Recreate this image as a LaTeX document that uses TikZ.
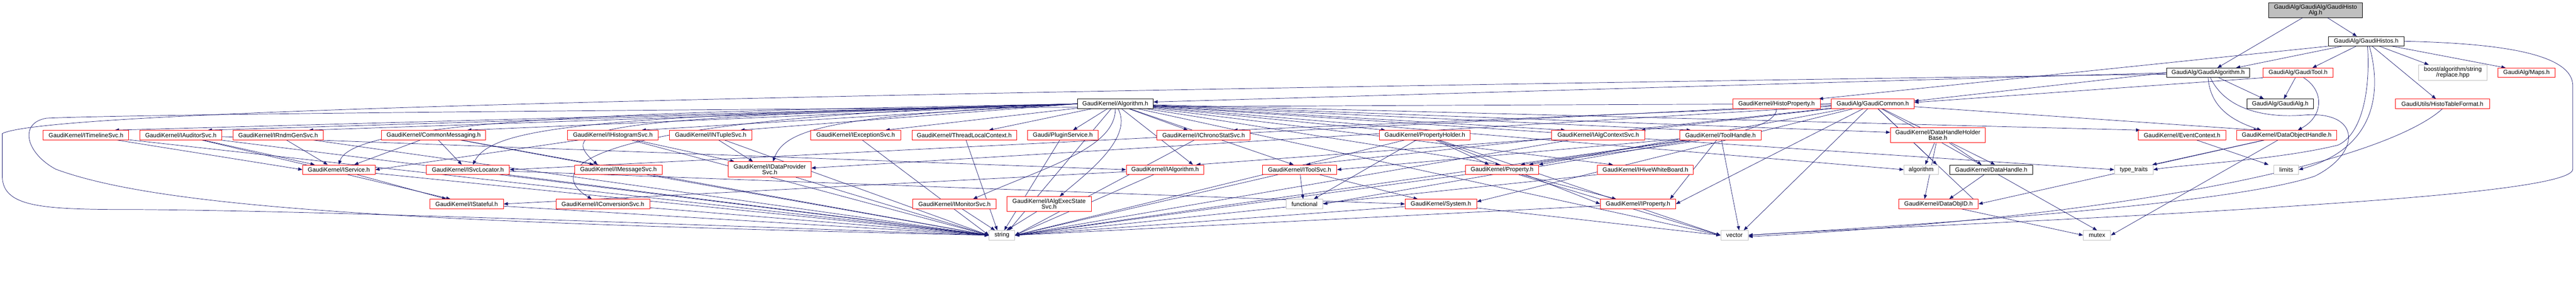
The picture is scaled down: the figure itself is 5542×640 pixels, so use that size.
\documentclass[tikz,border=0pt]{standalone}
\usepackage{fontspec}
\setmainfont{Liberation Sans}
\usetikzlibrary{arrows.meta}
\pgfdeclarelayer{bg}
\pgfsetlayers{bg,main}
\definecolor{edgeblue}{RGB}{25,25,112}
\definecolor{nodered}{RGB}{255,0,0}
\definecolor{sysgray}{RGB}{191,191,191}
\definecolor{topfill}{RGB}{191,191,191}
\tikzset{
  nd/.style={draw, rectangle, inner sep=0pt, fill=white, line width=1pt, align=center,
    font=\fontsize{13}{12.5}\selectfont, minimum height=20.5pt},
  rn/.style={nd, draw=nodered},
  bn/.style={nd, draw=black},
  gn/.style={nd, draw=sysgray},
  e/.style={draw=edgeblue, line width=0.8pt, -{Triangle[length=9pt,width=7pt]}}
}
\newcommand\E[2]{\draw[e] (#1) -- (#2);}
\begin{document}
\begin{tikzpicture}[x=1pt,y=-1pt]
\useasboundingbox (0,0) rectangle (5542,640);
% row 0-3
\node[bn, fill=topfill, minimum width=201pt, minimum height=32pt] (top) at (4981.5,22) {GaudiAlg/GaudiAlg/GaudiHisto\\Alg.h};
\node[bn, minimum width=163pt] (his) at (5090.5,89) {GaudiAlg/GaudiHistos.h};
\node[bn, minimum width=179pt] (galg) at (4750.5,157) {GaudiAlg/GaudiAlgorithm.h};
\node[rn, minimum width=150pt] (gtool) at (4944,157) {GaudiAlg/GaudiTool.h};
\node[gn, minimum width=148pt, minimum height=33pt] (boost) at (5277,156.5) {boost/algorithm/string\\/replace.hpp};
\node[rn, minimum width=123pt] (maps) at (5435.5,157) {GaudiAlg/Maps.h};
\node[bn, minimum width=163pt] (algo) at (2399.5,224) {GaudiKernel/Algorithm.h};
\node[rn, minimum width=188pt] (hprop) at (3822,224) {GaudiKernel/HistoProperty.h};
\node[rn, minimum width=178pt] (gcom) at (4029,224) {GaudiAlg/GaudiCommon.h};
\node[bn, minimum width=143pt] (galgh) at (4905.5,224) {GaudiAlg/GaudiAlg.h};
\node[rn, minimum width=203pt] (htf) at (5254.5,224) {GaudiUtils/HistoTableFormat.h};
% row 4
\node[rn, minimum width=184pt] (itl) at (185,291.5) {GaudiKernel/ITimelineSvc.h};
\node[rn, minimum width=176pt] (iaud) at (389,291.5) {GaudiKernel/IAuditorSvc.h};
\node[rn, minimum width=195pt] (irnd) at (598.5,291.5) {GaudiKernel/IRndmGenSvc.h};
\node[rn, minimum width=224pt] (cmsg) at (933,291.5) {GaudiKernel/CommonMessaging.h};
\node[rn, minimum width=195pt] (ihist) at (1318.5,291.5) {GaudiKernel/IHistogramSvc.h};
\node[rn, minimum width=178pt] (intup) at (1529,291.5) {GaudiKernel/INTupleSvc.h};
\node[rn, minimum width=194pt] (iexc) at (1841,291.5) {GaudiKernel/IExceptionSvc.h};
\node[rn, minimum width=225pt] (tlc) at (2074.5,291.5) {GaudiKernel/ThreadLocalContext.h};
\node[rn, minimum width=151pt] (plug) at (2286.5,291.5) {Gaudi/PluginService.h};
\node[rn, minimum width=201pt] (ichr) at (2589.5,291.5) {GaudiKernel/IChronoStatSvc.h};
\node[rn, minimum width=195pt] (ph) at (3065.5,291.5) {GaudiKernel/PropertyHolder.h};
\node[rn, minimum width=201pt] (iacs) at (3438.5,291.5) {GaudiKernel/IAlgContextSvc.h};
\node[rn, minimum width=175pt] (th) at (3701.5,291.5) {GaudiKernel/ToolHandle.h};
\node[rn, minimum width=204pt, minimum height=33pt] (dhhb) at (4169,291.5) {GaudiKernel/DataHandleHolder\\Base.h};
\node[rn, minimum width=189pt] (ec) at (4694.5,291.5) {GaudiKernel/EventContext.h};
\node[rn, minimum width=215pt] (doh) at (4919.5,291.5) {GaudiKernel/DataObjectHandle.h};
% row 5
\node[rn, minimum width=156pt] (isvc) at (729,366) {GaudiKernel/IService.h};
\node[rn, minimum width=179pt] (isl) at (1006.5,366) {GaudiKernel/ISvcLocator.h};
\node[rn, minimum width=189pt] (imsg) at (1330.5,366) {GaudiKernel/IMessageSvc.h};
\node[rn, minimum width=178pt, minimum height=33pt] (idp) at (1656,365.5) {GaudiKernel/IDataProvider\\Svc.h};
\node[rn, minimum width=167pt] (ialg) at (2506.5,366) {GaudiKernel/IAlgorithm.h};
\node[rn, minimum width=160pt] (itool) at (2796,366) {GaudiKernel/IToolSvc.h};
\node[rn, minimum width=157pt] (prop) at (3231.5,366) {GaudiKernel/Property.h};
\node[rn, minimum width=206pt] (ihwb) at (3540,366) {GaudiKernel/IHiveWhiteBoard.h};
\node[gn, minimum width=74pt] (algm) at (4133,366) {algorithm};
\node[bn, minimum width=178pt] (dh) at (4284,366) {GaudiKernel/DataHandle.h};
\node[gn, minimum width=83pt] (tt) at (4590.5,366) {type\_traits};
\node[gn, minimum width=53pt] (lim) at (4918.5,366) {limits};
% row 6
\node[rn, minimum width=158pt] (istf) at (1004,440) {GaudiKernel/IStateful.h};
\node[rn, minimum width=202pt] (iconv) at (1297,440) {GaudiKernel/IConversionSvc.h};
\node[rn, minimum width=179pt] (imon) at (2053.5,440) {GaudiKernel/IMonitorSvc.h};
\node[rn, minimum width=182pt, minimum height=32pt] (iaes) at (2257,440) {GaudiKernel/IAlgExecState\\Svc.h};
\node[gn, minimum width=79pt] (func) at (2806.5,440) {functional};
\node[rn, minimum width=154pt] (sys) at (3100,440) {GaudiKernel/System.h};
\node[rn, minimum width=162pt] (iprop) at (3524,440) {GaudiKernel/IProperty.h};
\node[rn, minimum width=171pt] (doid) at (4170.5,440) {GaudiKernel/DataObjID.h};
% row 7
\node[gn, minimum width=55pt] (str) at (2155.5,507.5) {string};
\node[gn, minimum width=59pt] (vec) at (3731.5,507.5) {vector};
\node[gn, minimum width=59pt] (mtx) at (4511.5,507.5) {mutex};

\begin{pgfonlayer}{bg}
% top
\E{top}{[xshift=20pt]galg.north}
\E{top}{[xshift=-20pt]his.north}
% GaudiHistos
\E{his}{[xshift=60pt]galg.north}
\E{his}{[xshift=31pt]gtool.north}
\E{his}{[xshift=-52pt]boost.north}
\E{his}{[xshift=-45pt]maps.north}
\E{his}{[xshift=-14pt]htf.north}
\E{his.south west}{[xshift=91pt]hprop.north}
\draw[e] ([xshift=3pt]his.south) .. controls (5100,200) and (5080,290) .. (5030,313) .. controls (4900,345) and (4700,355) .. (tt.east);
\draw[e] ([xshift=7pt]his.south) .. controls (5125,200) and (5110,320) .. (lim.east);
\draw[e] (his.east) .. controls (5350,93) and (5535,110) .. (5535,185) -- (5535,365) .. controls (5535,395) and (5300,420) .. (5000,440) .. controls (4500,475) and (3900,497) .. (vec.east);
% GaudiAlgorithm
\E{galg}{[xshift=-35pt]galgh.north}
\draw[e] (galg.south) .. controls (4755,230) and (4800,260) .. ([xshift=-55pt]doh.north);
\E{galg.west}{[yshift=6pt]gcom.east}
\E{galg.west}{[yshift=4pt]algo.east}
\draw[e] ([yshift=-3pt]galg.west) .. controls (1500,205) and (100,240) .. (5,288) -- (5,380) .. controls (5,450) and (100,452) .. (300,452) .. controls (700,455) and (1500,485) .. (str.west);
\draw[e] ([xshift=5pt]galg.south) .. controls (4790,240) and (4880,255) .. (4960,248) .. controls (5080,240) and (5080,330) .. (4980,380) .. controls (4800,440) and (4200,480) .. (vec.east);
% GaudiTool
\E{gtool}{[xshift=8pt]galgh.north}
\draw[e] ([xshift=12pt]gtool.south) .. controls (5000,195) and (5000,250) .. ([xshift=24pt]doh.north);
\E{gtool.south west}{[yshift=3pt]gcom.east}
% HistoTableFormat, HistoProperty
\draw[e] (htf.south) .. controls (5150,330) and (4700,460) .. ([yshift=-3pt]vec.east);
\draw[e] (hprop.south) .. controls (3822,300) and (3500,320) .. ([xshift=58pt]prop.north);
% GaudiCommon
\E{gcom}{[xshift=64pt]ichr.north}
\E{gcom}{[xshift=92pt]iacs.north}
\E{gcom.west}{isl.east}
\E{gcom}{[yshift=3pt]idp.east}
\E{gcom}{[xshift=14pt]itool.north}
\E{gcom}{prop.north east}
\E{gcom}{iprop.east}
\E{gcom}{[yshift=5pt]sys.east}
\E{gcom}{[xshift=34pt]algm.north}
\E{gcom}{[xshift=8pt]dh.north}
\E{gcom}{doid.east}
\E{gcom}{mtx.north}
\E{gcom}{[xshift=20pt]vec.north}
\E{gcom}{[xshift=-62pt]doh.north}
\draw[e] (gcom.west) .. controls (2000,230) and (300,245) .. (100,255) .. controls (40,265) and (55,330) .. (120,365) .. controls (350,450) and (900,480) .. (str.west);
% Algorithm
\E{algo.west}{[xshift=62pt]itl.north}
\E{algo.west}{[xshift=58pt]iaud.north}
\E{algo.west}{[xshift=66pt]irnd.north}
\E{algo.west}{[xshift=72pt]cmsg.north}
\E{algo.west}{[xshift=62pt]ihist.north}
\E{algo.west}{[xshift=64pt]intup.north}
\E{algo}{[xshift=64pt]iexc.north}
\E{algo}{[xshift=53pt]tlc.north}
\E{algo}{[xshift=22pt]plug.north}
\E{algo}{[xshift=-34pt]ichr.north}
\E{algo}{[xshift=-85pt]ph.north}
\E{algo}{[xshift=-71pt]iacs.north}
\E{algo}{[xshift=-64pt]th.north}
\E{algo}{[yshift=6pt]dhhb.west}
\E{algo}{[xshift=5pt]ec.north west}
\E{algo}{[xshift=60pt]ialg.north}
\E{algo}{[xshift=-13pt]itool.north}
\E{algo}{[xshift=-5pt]prop.north}
\E{algo}{[xshift=-70pt]ihwb.north}
\E{algo}{algm.west}
\E{algo}{tt.west}
\E{algo}{[xshift=15pt]str.north}
\E{algo}{vec.west}
\draw[e] (algo.west) .. controls (1500,240) and (760,250) .. (isvc.north);
\draw[e] (algo.west) .. controls (1300,250) and (1060,270) .. ([xshift=11pt]isl.north);
\draw[e] (algo.west) .. controls (1300,255) and (1190,270) .. ([xshift=-45pt]imsg.north);
\draw[e] (algo.west) .. controls (1800,250) and (1690,275) .. ([xshift=7pt]idp.north);
\draw[e] (algo.west) .. controls (1150,255) and (1190,380) .. ([xshift=-24pt]iconv.north);
\draw[e] (algo.south) .. controls (2400,320) and (2250,360) .. ([xshift=40pt]imon.north);
\draw[e] ([xshift=6pt]algo.south) .. controls (2440,300) and (2330,380) .. ([xshift=23pt]iaes.north);
% row 4
\E{itl}{isvc.west}
\E{itl}{str.west}
\E{iaud}{[xshift=-52pt]isvc.north}
\E{iaud}{ialg.west}
\E{iaud}{[xshift=-35pt]istf.north}
\E{iaud}{str.west}
\E{irnd}{[xshift=-24pt]isvc.north}
\E{irnd}{str.west}
\E{cmsg}{[xshift=33pt]isvc.north}
\E{cmsg}{[xshift=-13pt]isl.north}
\E{cmsg}{[xshift=-53pt]imsg.north}
\E{cmsg}{str.west}
\E{ihist}{isvc.east}
\E{ihist}{[xshift=-76pt]idp.north}
\E{ihist}{str.west}
\E{intup}{[xshift=-36pt]idp.north}
\E{intup}{str.west}
\E{iexc}{str.west}
\E{tlc}{[xshift=-10pt]str.north}
\E{plug}{[xshift=5pt]str.north}
\E{ichr}{str.east}
\E{ph}{[xshift=20pt]func.north}
\E{ph}{[xshift=-28pt]prop.north}
\E{ph}{iprop.west}
\E{ph}{str.east}
\E{ph}{vec.west}
\E{iacs}{[xshift=67pt]ialg.north}
\E{iacs}{str.east}
\E{th}{itool.east}
\E{th}{[xshift=40pt]prop.north}
\E{th}{func.east}
\E{th}{[xshift=69pt]iprop.north}
\E{th}{[xshift=10pt]vec.north}
\E{th}{str.east}
\E{dhhb}{[xshift=9pt]algm.north}
\E{dhhb}{[xshift=-21pt]dh.north}
\E{dhhb}{[xshift=-30pt]doid.north}
\E{ec}{[xshift=-38pt]lim.north}
\E{doh}{[xshift=40pt]tt.north}
\E{doh}{doid.east}
\E{doh}{mtx.east}
% row 5
\E{isvc}{[xshift=-44pt]istf.north}
\E{isvc}{str.west}
\E{isl}{sys.west}
\E{isl}{str.west}
\E{imsg}{str.west}
\E{idp}{str.west}
\E{ialg}{istf.east}
\E{ialg}{str.east}
\E{itool}{[xshift=-3pt]func.north}
\E{itool}{[xshift=-50pt]sys.north}
\E{itool}{str.east}
\E{prop}{[xshift=-47pt]iprop.north}
\E{prop}{str.east}
\E{prop}{vec.west}
\E{ihwb}{str.east}
\E{dh}{[xshift=23pt]doid.north}
% row 6
\E{istf}{str.west}
\E{iconv}{str.west}
\E{imon}{[xshift=-15pt]str.north}
\E{iaes}{[xshift=10pt]str.north}
\E{sys}{str.east}
\E{sys}{vec.west}
\E{iprop}{str.east}
\E{doid}{mtx.west}
\end{pgfonlayer}
\end{tikzpicture}
\end{document}
